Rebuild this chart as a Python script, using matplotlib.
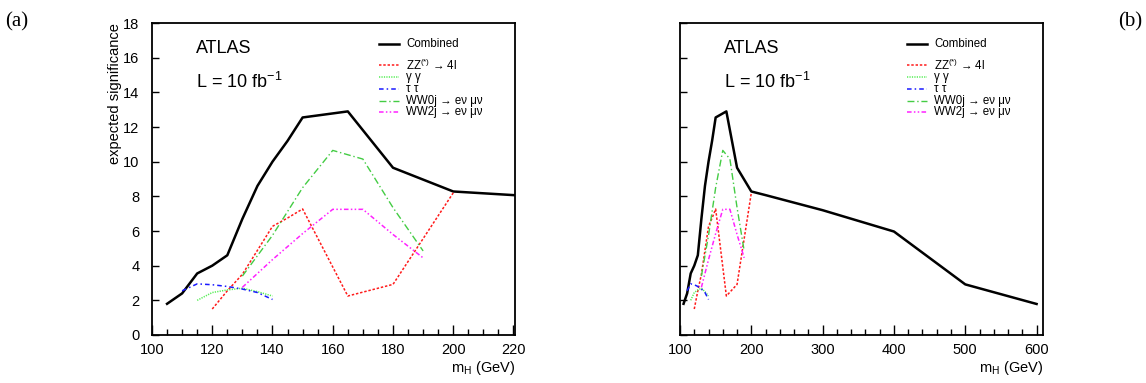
import matplotlib
matplotlib.use("Agg")
import matplotlib.pyplot as plt
from matplotlib.ticker import MultipleLocator

plt.rcParams['font.family'] = ['Liberation Sans', 'DejaVu Sans']
plt.rcParams['mathtext.fontset'] = 'custom'
plt.rcParams['mathtext.rm'] = 'Liberation Sans'
plt.rcParams['mathtext.it'] = 'Liberation Sans'

# Data
mh_comb = [105, 110, 115, 120, 125, 130, 135, 140, 145, 150, 165, 180, 200, 220, 300, 400, 500, 600]
sig_comb = [1.8, 2.4, 3.55, 4.0, 4.6, 6.7, 8.6, 10.0, 11.2, 12.55, 12.9, 9.65, 8.28, 8.07, 7.2, 5.97, 2.92, 1.79]

mh_zz = [120, 125, 130, 140, 145, 150, 165, 180, 200]
sig_zz = [1.5, 2.55, 3.5, 6.27, 6.75, 7.27, 2.25, 2.92, 8.2]

mh_gg = [115, 120, 125, 130, 135, 140]
sig_gg = [2.0, 2.45, 2.6, 2.7, 2.5, 2.25]

mh_tt = [110, 115, 120, 125, 130, 135, 140]
sig_tt = [2.55, 2.95, 2.9, 2.8, 2.65, 2.45, 2.05]

mh_ww0 = [130, 140, 150, 160, 170, 180, 190]
sig_ww0 = [3.4, 5.75, 8.5, 10.65, 10.15, 7.35, 4.85]

mh_ww2 = [130, 140, 150, 160, 170, 180, 190]
sig_ww2 = [2.75, 4.35, 5.85, 7.25, 7.25, 5.8, 4.45]

labels = ['Combined', 'ZZ$^{(*)}$ \u2192 4l', '\u03b3 \u03b3', '\u03c4 \u03c4',
          'WW0j \u2192 e\u03bd \u03bc\u03bd', 'WW2j \u2192 e\u03bd \u03bc\u03bd']

styles = [
    dict(color='black', lw=1.8, ls='-'),
    dict(color='#ff1a1a', lw=1.1, ls=(0, (1.6, 1.2))),
    dict(color='#55ee55', lw=1.1, ls=(0, (0.8, 0.8))),
    dict(color='#1a1aff', lw=1.1, ls=(0, (3, 2, 1, 2))),
    dict(color='#44cc44', lw=1.0, ls=(0, (5, 2, 1, 2))),
    dict(color='#ff22ff', lw=1.1, ls=(0, (3, 1.5, 1, 1.5, 1, 1.5))),
]
series = [(mh_comb, sig_comb), (mh_zz, sig_zz), (mh_gg, sig_gg), (mh_tt, sig_tt),
          (mh_ww0, sig_ww0), (mh_ww2, sig_ww2)]

W, H = 1146, 383
fig = plt.figure(figsize=(W / 100, H / 100), dpi=100)

def px_axes(x0, x1, y0, y1):
    return fig.add_axes([x0 / W, 1 - y1 / H, (x1 - x0) / W, (y1 - y0) / H])

axA = px_axes(152, 515, 23, 335)
axB = px_axes(680, 1043, 23, 335)

for ax, xlim, major, minor in [(axA, (100, 220.5), 20, 5), (axB, (100, 609), 100, 20)]:
    for (x, y), st in zip(series, styles):
        ax.plot(x, y, **st)
    ax.set_xlim(*xlim)
    ax.set_ylim(0, 18)
    ax.xaxis.set_major_locator(MultipleLocator(major))
    ax.xaxis.set_minor_locator(MultipleLocator(minor))
    ax.yaxis.set_major_locator(MultipleLocator(2))
    ax.tick_params(axis='both', which='both', direction='in', top=False, right=False,
                   labelsize=10.5, width=1.0)
    ax.tick_params(axis='x', which='major', length=7, pad=6)
    ax.tick_params(axis='x', which='minor', length=4)
    ax.tick_params(axis='y', which='major', length=5, pad=9)
    for sp in ax.spines.values():
        sp.set_linewidth(1.3)
    ax.set_xlabel(r'm$_\mathregular{H}$ (GeV)', fontsize=10.5, loc='right', labelpad=1)
    ax.text(0.12, 0.917, 'ATLAS', transform=ax.transAxes, fontsize=13, va='center')
    ax.text(0.12, 0.812, r'L = 10 fb$^{\mathregular{-1}}$', transform=ax.transAxes, fontsize=13, va='center')
    # legend
    ys = [44, 65, 77, 89, 100.5, 112]
    for (st, lab, yy) in zip(styles, labels, ys):
        yf = (335 - yy) / 312
        ax.plot([0.625, 0.68], [yf, yf], transform=ax.transAxes, **st)
        ax.text(0.70, yf, lab, transform=ax.transAxes, fontsize=8.3, va='center')

axA.set_ylabel('expected significance', fontsize=10.5, loc='top', labelpad=1)
axB.set_yticklabels([])

fig.text(5 / W, 1 - 22 / H, '(a)', fontsize=15, family='Liberation Serif', va='center')
fig.text(1118 / W, 1 - 22 / H, '(b)', fontsize=15, family='Liberation Serif', va='center')

fig.savefig('out.png', dpi=100)
